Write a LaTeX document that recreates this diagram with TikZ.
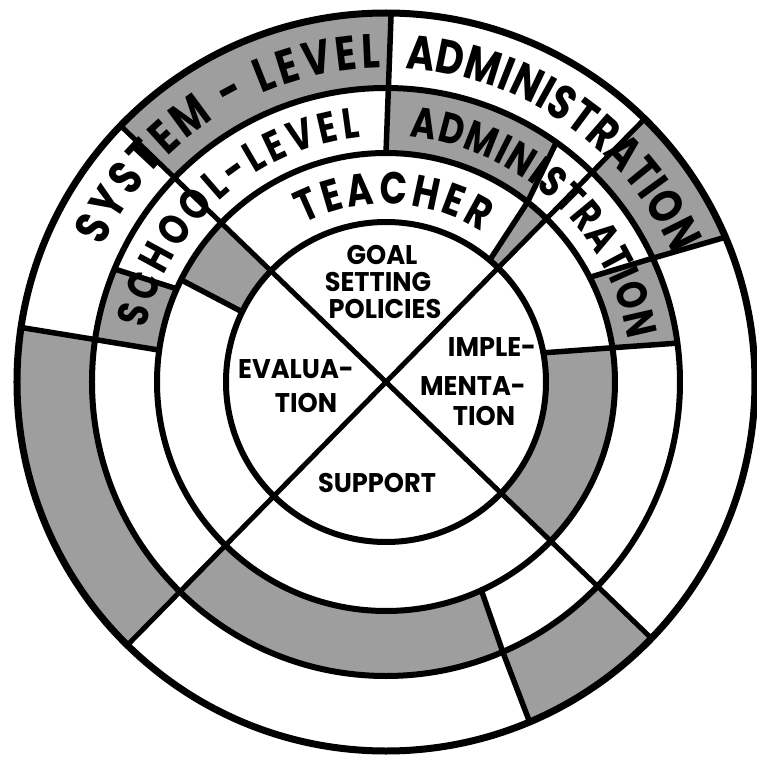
\documentclass[tikz,border=0pt]{standalone}
\usepackage{fontspec}
\setmainfont{Poppins}
\newfontfamily\ringfont{Poppins}[FakeStretch=0.8]
\newfontfamily\innerfont{Poppins}[FakeStretch=0.95]
\usetikzlibrary{decorations.text}
\definecolor{shadegrey}{gray}{0.62}

% ring sector: inner radius, outer radius,
% start angle (inner, outer), end angle (inner, outer)
\newcommand\sector[6]{%
  \fill[shadegrey] (#3:#1pt) arc[start angle=#3, end angle=#5, radius=#1pt]
    -- (#6:#2pt) arc[start angle=#6, end angle=#4, radius=#2pt] -- cycle;}

\begin{document}
\begin{tikzpicture}[
  rim/.style={line width=7pt},
  ring/.style={line width=6pt},
  spoke/.style={line width=5.5pt, line cap=round, line join=round},
  cross/.style={line width=5pt},
  innertext/.style={font=\innerfont\bfseries\fontsize{27}{30}\selectfont, inner sep=0pt, anchor=center},
  ringtext/.style={decorate, decoration={text along path, text={#1}, text align={fit to path}}},
]
\useasboundingbox (-386pt,-376pt) rectangle (370pt,382pt);

% shaded cells, teacher ring
\sector{160}{229}{136}{136}{154}{153.5}
\sector{160}{229}{45.5}{45.5}{49.6}{51.8}
\sector{160}{229}{-44}{-44}{10.5}{8.6}
% shaded cells, school ring
\sector{229}{294}{51.8}{54.6}{90}{89.8}
\sector{229}{294}{8.6}{7.6}{27.2}{24.9}
\sector{229}{294}{225.5}{225.5}{294.6}{293.4}
\sector{229}{294}{156}{157.4}{172}{171.7}
% shaded cells, system ring
\sector{294}{369}{89.8}{89.2}{136}{136}
\sector{294}{369}{45.5}{45.5}{24.9}{23.1}
\sector{294}{369}{-44}{-44}{-66.6}{-67.1}
\sector{294}{369}{171.7}{171.5}{225.5}{225.5}

% circles
\coordinate (O) at (0,0);
\draw[ring] (O) circle[radius=160pt];
\draw[ring] (O) circle[radius=229pt];
\draw[ring] (O) circle[radius=294pt];
\draw[rim]  (O) circle[radius=369pt];

% the two diagonals
\draw[cross] (136:369pt) -- (-44:369pt);
\draw[cross] (45.5:369pt) -- (225.5:369pt);

% radial dividers
\draw[spoke] (154:160pt) -- (153.5:229pt);
\draw[spoke] (49.6:160pt) -- (51.8:229pt) -- (54.6:294pt);
\draw[spoke] (10.5:160pt) -- (8.6:229pt) -- (7.6:294pt);
\draw[spoke] (27.2:229pt) -- (24.9:294pt) -- (23.1:369pt);
\draw[spoke] (-65.4:229pt) -- (-66.6:294pt) -- (-67.1:369pt);
\draw[spoke] (172:229pt) -- (171.7:294pt) -- (171.5:369pt);
\draw[spoke] (156:229pt) -- (157.4:294pt);
\draw[spoke] (90:229pt) -- (89.2:369pt);

% ring labels
\path[ringtext={|\ringfont\bfseries\fontsize{48}{52}\selectfont|SYSTEM - LEVEL}]
  (154.5:314pt) arc[start angle=154.5, end angle=91, radius=314pt];
\path[ringtext={|\ringfont\bfseries\fontsize{48}{52}\selectfont|ADMINISTRATION}]
  (86.5:314pt) arc[start angle=86.5, end angle=24, radius=314pt];
\path[ringtext={|\ringfont\bfseries\fontsize{43}{46}\selectfont|SCHOOL-LEVEL}]
  (167.5:246pt) arc[start angle=167.5, end angle=96, radius=246pt];
\path[ringtext={|\ringfont\bfseries\fontsize{43}{46}\selectfont|ADMINISTRATION}]
  (84.5:246pt) arc[start angle=84.5, end angle=10, radius=246pt];
\path[ringtext={|\ringfont\bfseries\fontsize{45}{48}\selectfont|TEACHER}]
  (117.5:178pt) arc[start angle=117.5, end angle=57.5, radius=178pt];

% centre labels
\node[innertext] (goal) at (-4pt,127pt) {GOAL};
\node[innertext] (setting) at (-8pt,100pt) {SETTING};
\node[innertext] (policies) at (-1pt,73pt) {POLICIES};
\node[innertext] (evalA) at (-90pt,13pt) {EVALUA-};
\node[innertext] (evalB) at (-80pt,-21pt) {TION};
\node[innertext] (implA) at (106pt,35pt) {IMPLE-};
\node[innertext] (implB) at (87pt,-4pt) {MENTA-};
\node[innertext] (implC) at (98pt,-34pt) {TION};
\node[innertext] (support) at (-9pt,-101pt) {SUPPORT};
\end{tikzpicture}
\end{document}
